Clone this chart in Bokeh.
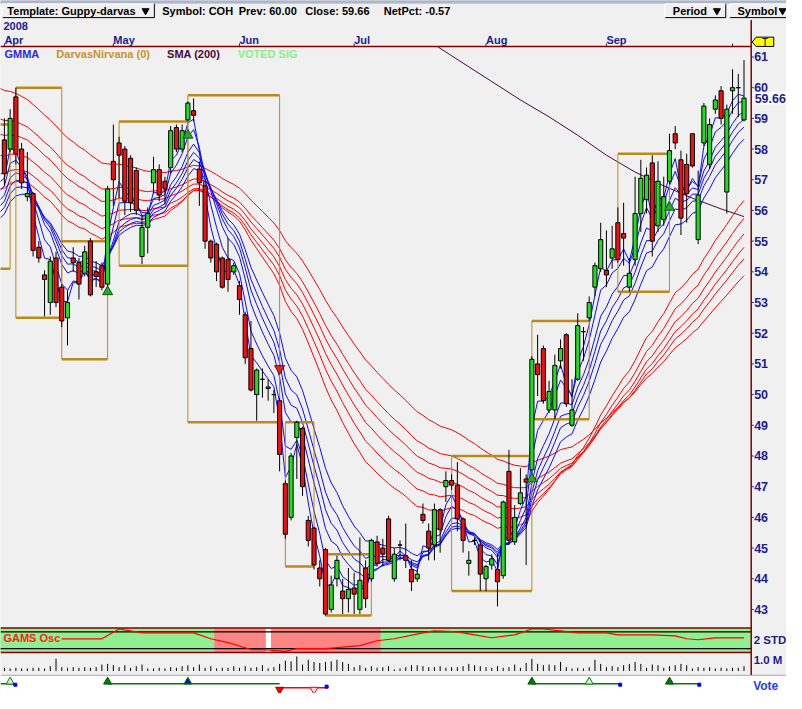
from bokeh.plotting import figure
from bokeh.models import Range1d, ColumnDataSource
from bokeh.embed import file_html
from bokeh.resources import INLINE
from bokeh.core.properties import value

# ---------------------------------------------------------------- data
open_ = [58.3, 58.0, 59.7, 58.0, 56.45, 56.55, 54.8, 53.9, 53.0, 54.45,
         53.5, 52.5, 54.45, 54.3, 53.95, 55.0, 54.0, 54.2, 53.6, 57.6,
         58.2, 58.0, 57.7, 57.3, 54.5, 55.45, 56.9, 57.33, 56.95, 57.4,
         58.7, 58.0, 58.95, 59.25, 57.35, 56.8, 55.0, 54.9, 54.45, 54.4,
         54.0, 53.55, 52.6, 51.5, 50.0, 50.5, 50.2, 50.0, 49.8, 47.1,
         46.0, 48.6, 48.9, 45.9, 45.65, 44.35, 44.95, 43.0, 44.0, 43.6,
         43.35, 43.7, 43.0, 44.35, 44.0, 45.2, 45.0, 45.95, 44.0, 45.1,
         44.75, 44.3, 44.0, 46.1, 45.55, 45.1, 46.25, 47.0, 47.2, 47.05,
         45.95, 44.5, 45.25, 45.1, 44.0, 44.45, 44.3, 44.1, 47.5, 45.2,
         46.45, 47.25, 47.55, 51.0, 51.5, 49.5, 49.5, 51.1, 51.95, 49.0,
         50.5, 52.05, 52.5, 53.5, 54.1, 54.05, 54.45, 55.6, 55.25, 53.5,
         54.4, 55.9, 56.35, 57.55, 55.5, 55.7, 56.95, 58.5, 57.65, 57.5,
         58.5, 55.05, 58.2, 57.5, 59.3, 59.9, 56.6, 59.9, 60.0, 58.95]
high = [59.0, 59.3, 60.0, 58.2, 57.9, 56.6, 55.0, 54.05, 54.5, 54.65,
        53.6, 53.4, 54.8, 54.45, 54.85, 55.1, 54.35, 54.3, 56.8, 58.8,
        58.4, 58.1, 57.8, 57.4, 55.85, 56.1, 57.75, 57.5, 57.1, 58.75,
        58.8, 58.8, 59.55, 59.65, 57.6, 57.0, 55.05, 54.95, 54.5, 55.1,
        54.3, 53.7, 52.7, 52.4, 50.85, 50.85, 50.5, 50.15, 49.9, 47.2,
        48.1, 49.15, 48.95, 46.05, 45.7, 44.6, 45.0, 44.1, 44.75, 44.0,
        44.35, 44.2, 45.35, 44.6, 45.3, 45.4, 45.3, 46.05, 45.0, 45.25,
        45.8, 44.6, 44.3, 46.45, 45.8, 46.45, 46.3, 47.5, 47.4, 47.8,
        46.0, 44.9, 45.35, 45.25, 44.45, 44.8, 44.8, 46.55, 48.2, 46.4,
        47.6, 47.4, 51.25, 51.95, 51.6, 50.45, 51.3, 51.8, 52.0, 50.5,
        52.65, 52.2, 53.2, 54.3, 55.6, 55.35, 55.5, 56.1, 56.25, 54.45,
        57.1, 57.65, 57.4, 57.8, 57.6, 57.1, 58.5, 58.75, 57.95, 57.85,
        58.5, 57.3, 59.5, 59.0, 59.75, 60.05, 59.45, 60.6, 60.45, 60.9]
low = [56.8, 57.9, 57.5, 56.7, 56.3, 54.5, 54.3, 52.55, 52.6, 52.85,
       52.2, 51.6, 54.0, 53.1, 53.85, 53.2, 53.5, 53.4, 53.3, 56.15,
       56.4, 55.85, 55.95, 55.85, 54.25, 54.6, 56.55, 56.3, 56.2, 57.2,
       57.9, 57.9, 58.9, 58.9, 56.15, 54.75, 54.3, 53.7, 53.45, 53.35,
       53.9, 52.6, 51.0, 50.1, 49.15, 49.9, 49.8, 49.4, 47.5, 45.3,
       45.9, 47.25, 46.7, 45.05, 44.3, 43.75, 42.8, 42.9, 43.75, 42.85,
       42.9, 42.85, 42.85, 43.05, 43.9, 44.4, 44.4, 44.55, 43.9, 44.6,
       44.35, 43.6, 43.9, 45.8, 44.6, 44.6, 44.85, 46.5, 46.9, 45.55,
       44.85, 44.1, 45.1, 43.6, 43.6, 44.3, 43.1, 44.0, 45.1, 45.1,
       46.4, 44.45, 47.4, 49.95, 49.7, 49.4, 49.2, 50.85, 49.6, 48.95,
       50.45, 51.1, 52.4, 53.2, 54.0, 53.5, 54.1, 54.3, 54.2, 53.35,
       54.2, 55.3, 55.9, 54.5, 55.3, 55.5, 56.85, 58.0, 55.2, 55.6,
       57.4, 54.9, 58.1, 57.35, 59.15, 58.8, 55.9, 59.15, 59.05, 58.9]
close = [57.2, 59.0, 57.85, 56.9, 56.55, 54.7, 54.45, 53.75, 54.35, 53.0,
         52.4, 53.0, 54.3, 53.6, 54.65, 53.25, 53.85, 53.5, 56.7, 57.0,
         57.8, 56.3, 56.25, 56.0, 55.45, 55.9, 57.33, 56.5, 56.7, 58.6,
         58.0, 58.6, 59.5, 59.1, 56.9, 55.0, 54.45, 54.0, 53.5, 53.75,
         54.2, 53.1, 51.2, 50.15, 50.8, 50.5, 50.25, 50.0, 48.05, 45.45,
         48.0, 49.1, 47.0, 45.25, 44.45, 44.0, 42.85, 43.8, 44.6, 43.35,
         43.65, 43.5, 43.95, 43.35, 45.25, 44.5, 44.8, 44.6, 44.8, 45.1,
         44.6, 43.9, 44.15, 45.9, 45.0, 46.25, 45.6, 47.2, 47.05, 45.95,
         45.25, 44.6, 45.25, 44.15, 44.4, 44.65, 43.9, 46.5, 45.25, 46.0,
         46.8, 47.15, 51.15, 50.65, 49.8, 50.1, 50.95, 51.5, 49.7, 49.5,
         52.25, 52.05, 53.0, 54.2, 55.05, 53.9, 54.75, 54.4, 55.1, 53.95,
         55.9, 57.05, 57.15, 55.0, 56.95, 56.45, 57.95, 58.2, 55.75, 56.55,
         57.45, 56.5, 59.4, 58.8, 59.6, 59.0, 59.3, 60.0, 60.0, 59.66]
volume_k = [300, 240, 300, 240, 240, 300, 300, 240, 450, 1140,
            360, 300, 360, 300, 360, 300, 360, 600, 660, 540,
            360, 540, 300, 450, 600, 240, 240, 300, 240, 360,
            300, 450, 540, 360, 600, 300, 450, 240, 300, 300,
            450, 300, 450, 300, 360, 540, 240, 360, 660, 960,
            900, 1350, 600, 1050, 840, 750, 840, 900, 1050, 840,
            660, 360, 540, 300, 450, 300, 360, 450,
            150, 240, 360, 540, 540, 450, 360, 360, 450, 300,
            360, 360, 450, 660, 540, 450, 360, 300, 450, 300,
            360, 600, 300, 750, 1140, 660, 540, 600, 540, 840,
            360, 240, 300, 240, 360, 1050, 660, 360, 450, 360,
            540, 660, 840, 660, 300, 600, 540, 300, 450, 540,
            660, 540, 240, 360, 300, 360, 240, 300, 240, 300,
            300, 450]

month_names = ["Apr", "May", "Jun", "Jul", "Aug", "Sep", ""]
month_start = [0, 19, 41, 61, 84, 105, 127]
price_ticks = list(range(43, 62))
last_close = 59.66

gmma_short_periods = [3, 5, 8, 10, 12, 15]
gmma_short_seed = [56.9, 56.6, 56.3, 56.1, 55.9, 55.7]
gmma_long_periods = [30, 35, 40, 45, 50, 60]
gmma_long_seed = [56.7, 57.2, 57.8, 58.5, 59.0, 60.0]

sma200_idx = [75.6, 80, 85, 90, 95, 100, 105, 110, 115, 120, 125, 129]
sma200_val = [61.33, 60.8, 60.2, 59.6, 59.05, 58.45, 57.8, 57.25, 56.8, 56.4, 56.05, 55.8]

box_left = [-2, 2, 10, 20, 32, 49, 56, 78, 92, 107]
box_right = [1, 10, 18, 32, 48, 54, 64, 92, 102, 116]
box_top = [58.8, 60.0, 55.0, 58.9, 59.75, 49.1, 44.8, 48.0, 52.4, 57.85]
box_bottom = [54.1, 52.5, 51.15, 54.2, 49.1, 44.4, 42.8, 43.6, 49.2, 53.35]

sig_idx = [18, 32, 48, 92, 116]
sig_price = [53.35, 58.45, 50.85, 47.25, 56.1]
sig_dir = ["up", "up", "down", "up", "up"]

osc_idx = [10, 17, 20, 22, 24, 28, 33, 36, 39, 43, 45, 49, 51, 56, 62, 65, 68, 73,
           75, 79, 82, 85, 89, 92, 94, 97, 100, 105, 107, 113, 117, 119, 121, 124, 129]
osc_val = [0.35, 0.35, 2.7, 2.24, 1.76, 1.76, 1.76, 0.35, -0.59, -2.24, -2.24, -2.7,
           -2.0, -2.0, -1.3, -0.12, 0.35, 1.76, 2.24, 2.0, 1.3, 0.59, 1.3, 2.7, 2.7,
           2.24, 1.76, 1.76, 1.3, 1.3, 1.06, 0.35, 0.12, 0.59, 0.59]
osc_band = [2, -2]
regime_left = [36.6, 45.6, 46.5]
regime_right = [45.6, 46.5, 65.6]
regime_color = ["#FF8585", "#FFFFFF", "#FF8585"]

vote_seg_start = [-0.7, 18, 48, 92, 116]
vote_seg_end = [1.9, 48, 56.2, 107.4, 121.2]
vote_seg_kind = ["long", "long", "short", "long", "long"]
vote_mark_idx = [1, 18, 32, 48, 54, 92, 102, 116]
vote_mark_kind = ["long_open", "long", "blue", "short", "short_open", "long", "long_open", "long"]
vote_exit_idx = [1.9, 56.2, 107.4, 121.2]
vote_exit_kind = ["long", "short", "long", "long"]

# ---------------------------------------------------------------- layout helpers
FONT = "Liberation Sans"
NAVY = "#1C1C90"
MAROON = "#800000"
BG = "#F0F0F0"
W, H = 786, 693          # canvas; reference layout is 802 x 709 reference pixels
REF_W, REF_H = 802, 709


def ix(px):
    """reference-pixel x -> bar index"""
    return (px - 4) / 5.85


def price_at(py):
    """reference-pixel y -> price (price panel scale)"""
    return 43 + (623 - py) / 31.4


def osc_at(py):
    return (654.5 - py) / 4.25


def vol_at(py):
    return (686 - py) * 90.9


p = figure(width=W, height=H, x_range=Range1d(0, REF_W), y_range=Range1d(REF_H, 0),
           toolbar_location=None, output_backend="svg", x_axis_location=None,
           y_axis_location=None, min_border=0, title=None)
p.grid.visible = False
p.outline_line_color = None
p.background_fill_color = BG
p.border_fill_color = BG
p.extra_x_ranges = {"bar": Range1d(ix(0), ix(REF_W))}
p.extra_y_ranges = {"price": Range1d(price_at(REF_H), price_at(0)),
                    "osc": Range1d(osc_at(REF_H), osc_at(0)),
                    "vol": Range1d(vol_at(REF_H), vol_at(0))}
B = dict(x_range_name="bar")


def txt(x, y, s, color="black", size="11px", align="left", bold=True, **kw):
    p.text(x=[x], y=[y], text=[s], text_color=color, text_font=value(FONT),
           text_font_size=size, text_font_style="bold" if bold else "normal",
           text_align=align, text_baseline="middle", **kw)

# ---------------------------------------------------------------- toolbar
p.quad(left=[0], right=[REF_W], top=[0], bottom=[2.2], color="#AAB6C8")
p.segment(x0=[0], y0=[3], x1=[REF_W], y1=[3], line_color="#C8C8C8", line_width=1)
for l, r in [(2, 157), (678, 740), (744, 806)]:
    p.segment(x0=[l, r], y0=[17.5, 3], x1=[r, r], y1=[17.5, 17.5], line_color="black", line_width=1)
    p.segment(x0=[l, l], y0=[3.5, 3.5], x1=[r, l], y1=[3.5, 17.5], line_color="white", line_width=1)
p.scatter(x=[148, 731, 798], y=[10.5, 10.5, 10.5], marker="inverted_triangle", size=7, color="black")
for x, s in [(7, "Template: Guppy-darvas"), (165, "Symbol: COH"), (243, "Prev: 60.00"),
             (311, "Close: 59.66"), (391, "NetPct: -0.57"), (686, "Period"), (752, "Symbol")]:
    txt(x, 10.5, s, size="11px")

# ---------------------------------------------------------------- month strip
txt(3, 26, "2008", color=NAVY, size="11px")
p.text(x=month_start, y=[40.5] * len(month_start), text=month_names, text_color=NAVY,
       text_font=value(FONT), text_font_size="11px", text_font_style="bold",
       text_align="left", text_baseline="middle", **B)
p.segment(x0=month_start, y0=[44] * len(month_start), x1=month_start,
          y1=[47] * len(month_start), line_color=NAVY, line_width=1, **B)

# ---------------------------------------------------------------- oscillator panel
p.quad(left=[0], right=[766], top=[642.5], bottom=[666.5], color="#90F090")
p.quad(left=regime_left, right=regime_right, top=[osc_at(642.5)] * 3, bottom=[osc_at(666.5)] * 3,
       fill_color=regime_color, line_color=None, y_range_name="osc", **B)
p.segment(x0=[0, 0], y0=osc_band, x1=[766, 766], y1=osc_band, line_color="black",
          line_width=1.2, y_range_name="osc")
txt(3, 652, "GAMS Osc", color="#FF1A1A", size="11px")
p.line(osc_idx, osc_val, line_color="#FF0000", line_width=1.2, y_range_name="osc", **B)

# ---------------------------------------------------------------- volume panel
n = len(close)
idx = list(range(n))
p.segment(x0=idx, y0=[0] * n, x1=idx, y1=volume_k, line_color="black", line_width=1,
          y_range_name="vol", **B)

# ---------------------------------------------------------------- vote panel
p.quad(left=[0], right=[REF_W], top=[691], bottom=[REF_H], color="white")
p.segment(x0=[0], y0=[690.5], x1=[REF_W], y1=[690.5], line_color="#B8B8B8", line_width=1.2)
for s, e, k in zip(vote_seg_start, vote_seg_end, vote_seg_kind):
    yy = 699 if k == "long" else 703
    p.segment(x0=[s], y0=[yy], x1=[e], y1=[yy],
              line_color="#007A00" if k == "long" else "#FF0000", line_width=1.5, **B)
for i, k in zip(vote_mark_idx, vote_mark_kind):
    if k == "long":
        p.scatter([i], [697], marker="triangle", size=8, fill_color="#008000", line_color="#005000", **B)
    elif k == "long_open":
        p.scatter([i], [697], marker="triangle", size=8, fill_color="#D8F0D8", line_color="#008000", **B)
    elif k == "blue":
        p.scatter([i], [697], marker="triangle", size=8, fill_color="#1010C0", line_color="#008000", **B)
    elif k == "short":
        p.scatter([i], [705], marker="inverted_triangle", size=8, fill_color="#FF0000", line_color="#A00000", **B)
    else:
        p.scatter([i], [705], marker="inverted_triangle", size=8, fill_color="#FFE0E0", line_color="#FF0000", **B)
p.scatter(vote_exit_idx, [700 if k == "long" else 702 for k in vote_exit_kind],
          marker="square", size=3, color="#0000FF", **B)

# ---------------------------------------------------------------- frame lines
p.segment(x0=[0, 0, 0], y0=[47, 642, 667], x1=[766, 766, 766], y1=[47, 642, 667],
          line_color=MAROON, line_width=1.5)
p.segment(x0=[766], y0=[20], x1=[766], y1=[690], line_color=MAROON, line_width=1.5)

# ---------------------------------------------------------------- price panel
P = dict(x_range_name="bar", y_range_name="price")


def ema(series, period, seed):
    a = 2.0 / (period + 1)
    out = [seed]
    for c in series:
        out.append(out[-1] + a * (c - out[-1]))
    return out


ema_x = [-1] + idx
for per, seed in zip(gmma_long_periods, gmma_long_seed):
    p.line(ema_x, ema(close, per, seed), line_color="#FF0000", line_width=1, **P)
for per, seed in zip(gmma_short_periods, gmma_short_seed):
    p.line(ema_x, ema(close, per, seed), line_color="#0A0AFF", line_width=1, **P)

p.line(sma200_idx, sma200_val, line_color="#4A0A3A", line_width=1, **P)

gold = "#BA8A1C"
p.segment(x0=box_left, y0=box_top, x1=box_right, y1=box_top, line_color=gold, line_width=2.5, **P)
p.segment(x0=box_left, y0=box_bottom, x1=box_right, y1=box_bottom, line_color=gold, line_width=2.5, **P)
p.segment(x0=box_left, y0=box_bottom, x1=box_left, y1=box_top, line_color=gold, line_width=1, **P)
p.segment(x0=box_right, y0=box_bottom, x1=box_right, y1=box_top, line_color=gold, line_width=1, **P)

colors = ["#22DD22" if c > o else ("#EE1111" if c < o else "black") for o, c in zip(open_, close)]
src = ColumnDataSource(dict(x=idx, h=high, l=low,
                            top=[max(a, b) for a, b in zip(open_, close)],
                            bottom=[min(a, b) for a, b in zip(open_, close)],
                            color=colors))
p.segment(x0="x", y0="l", x1="x", y1="h", source=src, line_color="black", line_width=1, **P)
p.vbar(x="x", width=0.72, top="top", bottom="bottom", fill_color="color",
       line_color="black", line_width=1, source=src, **P)

up_i = [i for i, d in zip(sig_idx, sig_dir) if d == "up"]
up_p = [v for v, d in zip(sig_price, sig_dir) if d == "up"]
dn_i = [i for i, d in zip(sig_idx, sig_dir) if d == "down"]
dn_p = [v for v, d in zip(sig_price, sig_dir) if d == "down"]
p.scatter(up_i, up_p, marker="triangle", size=10, fill_color="#2AAA2A", line_color="#0A5A0A", **P)
p.scatter(dn_i, dn_p, marker="inverted_triangle", size=10, fill_color="#EE2222", line_color="#6A0A0A", **P)

# legend row
for px, s, c in [(4, "GMMA", "#2A2AE8"), (57, "DarvasNirvana (0)", "#C8922A"),
                 (170, "SMA (200)", "#4A0A3A"), (242, "VOTED SIG", "#8CEC8C")]:
    txt(px, 54.5, s, color=c, size="11px")

# ---------------------------------------------------------------- right-hand scale
p.segment(x0=[766] * len(price_ticks), y0=price_ticks, x1=[768.5] * len(price_ticks),
          y1=price_ticks, line_color=NAVY, line_width=1, y_range_name="price")
p.text(x=[769] * len(price_ticks), y=price_ticks, text=[str(t) for t in price_ticks],
       text_color=NAVY, text_font=value(FONT), text_font_size="12.5px", text_font_style="bold",
       text_align="left", text_baseline="middle", y_range_name="price")
p.quad(left=[768], right=[REF_W], top=[last_close + 0.19], bottom=[last_close - 0.19],
       color="white", y_range_name="price")
txt(769.5, last_close, f"{last_close:.2f}", color=NAVY, size="12.5px", y_range_name="price")
txt(768.5, 0, "2 STD", color=NAVY, size="11.5px", y_range_name="osc")
txt(768.5, 1000, "1.0 M", color=NAVY, size="11.5px", y_range_name="vol")
txt(768, 701, "Vote", color="#1E3CFF", size="12px")

# "T" tag
p.patch(x=[767, 771, 789, 789, 771], y=[42.5, 37.5, 37.5, 47, 47],
        fill_color="#FFFF00", line_color="black", line_width=1)
txt(777, 42.5, "T", size="10px", bold=False)

open("out.html", "w").write(file_html(p, INLINE))
